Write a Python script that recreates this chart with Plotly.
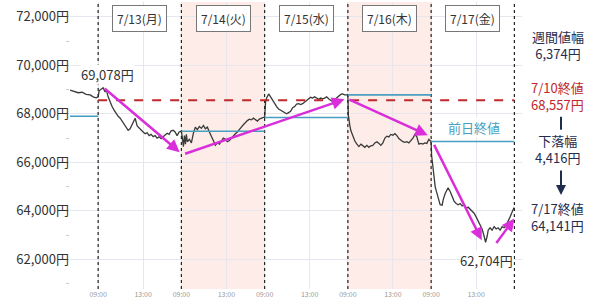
import plotly.graph_objects as go

# ---------------- data ----------------
DAY_LEN = 7.4  # trading hours shown per day (09:00 ~ close)
day_labels = ["7/13(月)", "7/14(火)", "7/15(水)", "7/16(木)", "7/17(金)"]

# tail of 7/10 session (hours relative to 7/13 09:00)
prev_hours = [-2.49, -2.13, -1.78, -1.42, -1.07, -0.71, -0.44, -0.18]
prev_price = [68980, 68930, 68870, 68890, 68800, 68780, 68700, 68660]

d13_hours = [0, 0.09, 0.27, 0.44, 0.62, 0.71, 0.89, 1.07, 1.24, 1.42, 1.6, 1.78, 1.96, 2.13, 2.31, 2.49,
             2.67, 2.84, 3.02, 3.2, 3.29, 3.47, 3.64, 3.82, 4.0, 4.18, 4.36, 4.53, 4.71, 4.89, 5.07, 5.24,
             5.42, 5.6, 5.78, 5.96, 6.13, 6.31, 6.49, 6.67, 6.84, 7.02, 7.2, 7.33]
d13_price = [68700, 68950, 69000, 69078, 68900, 69020, 68700, 68450, 68300, 68150, 68000, 67900, 67820,
             67700, 67600, 67450, 67320, 67380, 67550, 67700, 67820, 67500, 67420, 67300, 67250, 67180,
             67220, 67100, 67150, 67060, 67100, 67000, 67050, 66980, 67050, 67150, 67200, 67150, 67300,
             67320, 67250, 67100, 67250, 67280]

d14_hours = [0, 0.09, 0.18, 0.27, 0.36, 0.44, 0.53, 0.71, 0.89, 1.07, 1.24, 1.42, 1.6, 1.78, 1.96, 2.13,
             2.31, 2.49, 2.67, 2.84, 3.02, 3.2, 3.38, 3.56, 3.73, 3.91, 4.09, 4.27, 4.44, 4.62, 4.8, 4.98,
             5.16, 5.33, 5.51, 5.69, 5.87, 6.04, 6.22, 6.4, 6.58, 6.76, 6.93, 7.11, 7.29]
d14_price = [67280, 67000, 66650, 67100, 66750, 67150, 66850, 66950, 66800, 67200, 67450, 67350, 67480,
             67400, 67520, 67380, 67450, 67250, 67100, 66900, 66700, 66800, 66750, 66900, 67000, 66950,
             66850, 66900, 67000, 67100, 67180, 67250, 67380, 67450, 67550, 67650, 67720, 67780, 67750,
             67820, 67760, 67700, 67780, 67820, 67850]

d15_hours = [0, 0.09, 0.18, 0.36, 0.53, 0.71, 0.89, 1.07, 1.24, 1.42, 1.6, 1.78, 1.96, 2.13, 2.31, 2.49,
             2.67, 2.84, 3.02, 3.2, 3.38, 3.73, 3.91, 4.09, 4.27, 4.44, 4.62, 4.8, 4.98, 5.16, 5.33, 5.51,
             5.69, 5.87, 6.04, 6.22, 6.4, 6.58, 6.76, 6.93, 7.11, 7.29]
d15_price = [67850, 68500, 68650, 68820, 68700, 68550, 68400, 68300, 68200, 68150, 68080, 68050, 68000,
             68050, 68100, 68250, 68300, 68400, 68420, 68380, 68420, 68550, 68620, 68680, 68650, 68700,
             68650, 68600, 68650, 68620, 68650, 68700, 68620, 68550, 68500, 68580, 68650, 68720, 68800,
             68820, 68780, 68780]

d16_hours = [0, 0.04, 0.09, 0.18, 0.27, 0.44, 0.62, 0.8, 0.98, 1.16, 1.33, 1.51, 1.69, 1.87, 2.04, 2.22,
             2.4, 2.58, 2.76, 2.93, 3.11, 3.29, 3.47, 3.64, 3.82, 4.0, 4.18, 4.36, 4.53, 4.71, 4.89, 5.07,
             5.24, 5.42, 5.6, 5.78, 5.96, 6.13, 6.31, 6.49, 6.67, 6.84, 7.02, 7.2, 7.38]
d16_price = [68780, 67950, 67700, 67500, 67300, 67050, 66880, 66750, 66650, 66750, 66680, 66620, 66700,
             66620, 66680, 66700, 66800, 66850, 66780, 66700, 66800, 67000, 67080, 67050, 67150, 67120,
             67180, 67100, 66980, 66900, 66850, 66820, 66850, 66800, 66900, 67000, 67150, 67050, 66750,
             66780, 66750, 66800, 66780, 66950, 66860]

d17_hours = [0, 0.04, 0.09, 0.18, 0.27, 0.36, 0.44, 0.53, 0.62, 0.8, 0.98, 1.07, 1.24, 1.42, 1.51, 1.69,
             1.87, 2.04, 2.22, 2.4, 2.58, 2.76, 2.93, 3.11, 3.29, 3.47, 3.64, 3.82, 4.0, 4.18, 4.36, 4.53,
             4.71, 4.84, 4.98, 5.07, 5.24, 5.42, 5.6, 5.78, 5.96, 6.13, 6.31, 6.49, 6.67, 6.84, 7.02, 7.2,
             7.38]
d17_price = [66860, 66300, 66050, 65600, 65250, 65000, 64850, 64700, 64450, 64250, 64230, 64450, 64700,
             64850, 64950, 64800, 64600, 64400, 64300, 64250, 64300, 64200, 64250, 64100, 64150, 64050,
             64000, 63900, 63750, 63600, 63450, 63250, 62950, 62704, 62950, 63200, 63300, 63200, 63350,
             63250, 63300, 63200, 63350, 63300, 63400, 63550, 63750, 63950, 64141]

# previous-day closes shown as teal reference lines
prev_close_days = [-1, 1, 2, 3, 4]
prev_close_vals = [67900, 67280, 67850, 68780, 66860]

close_0710 = 68557
week_high = 69078
week_low = 62704
close_0717 = 64141

y_ticks = [62000, 64000, 66000, 68000, 70000, 72000]
y_ticktext = [f"{v:,}円" for v in y_ticks]

# trend arrows: (tail hour, tail price, head hour, head price)
arrows = [
    (0.44, 69100, 7.25, 66420),
    (7.6, 66330, 21.9, 68600),
    (22.2, 68610, 29.3, 67120),
    (29.8, 66780, 34.1, 62790),
    (35.3, 62610, 37.0, 63680),
]

# ---------------- figure ----------------
days = [d13_hours, d14_hours, d15_hours, d16_hours, d17_hours]
prices = [d13_price, d14_price, d15_price, d16_price, d17_price]
xs = list(prev_hours)
ys = list(prev_price)
for k, (h, p) in enumerate(zip(days, prices)):
    xs += [k * DAY_LEN + v for v in h]
    ys += p

NAVY = "#1f2d4f"
RED = "#c0282a"
TEAL = "#4a9fc0"
MAG = "#d92ed9"
FONT = "Noto Sans CJK JP"

fig = go.Figure()

shapes = []
for k in (1, 3):
    shapes.append(dict(type="rect", xref="x", yref="paper", x0=k * DAY_LEN, x1=(k + 1) * DAY_LEN,
                       y0=0, y1=1, fillcolor="#fdece7", line=dict(width=0), layer="below"))
for k in range(6):
    shapes.append(dict(type="line", xref="x", yref="paper", x0=k * DAY_LEN, x1=k * DAY_LEN,
                       y0=0, y1=0.995, line=dict(color="#222", width=1.2, dash="dot")))
for d, v in zip(prev_close_days, prev_close_vals):
    if d < 0:
        x0, x1 = prev_hours[0] - 0.1, 0
    else:
        x0, x1 = d * DAY_LEN, (d + 1) * DAY_LEN
    shapes.append(dict(type="line", xref="x", yref="y", x0=x0, x1=x1, y0=v, y1=v,
                       line=dict(color=TEAL, width=1.6)))
shapes.append(dict(type="line", xref="x", yref="y", x0=0, x1=5 * DAY_LEN, y0=close_0710, y1=close_0710,
                   line=dict(color=RED, width=2, dash="dash")))
shapes.append(dict(type="line", xref="paper", yref="paper", x0=1.0863, x1=1.0863, y0=0.555, y1=0.6,
                   line=dict(color=NAVY, width=2)))

fig.add_trace(go.Scatter(x=xs, y=ys, mode="lines", line=dict(color="#3a3a3a", width=1.3),
                         hoverinfo="skip", showlegend=False))

ann = []
for k, lab in enumerate(day_labels):
    ann.append(dict(x=k * DAY_LEN + DAY_LEN / 2, y=0.9414, xref="x", yref="paper", text=lab,
                    showarrow=False, xanchor="center", yanchor="middle",
                    font=dict(size=12, color="#333", family=FONT),
                    bgcolor="white", bordercolor="#777", borderwidth=1, borderpad=4))
for (tx, ty, hx, hy) in arrows:
    ann.append(dict(x=hx, y=hy, ax=tx, ay=ty, xref="x", yref="y", axref="x", ayref="y",
                    showarrow=True, arrowhead=2, arrowsize=1, arrowwidth=2.5, arrowcolor=MAG,
                    text="", standoff=0, startstandoff=0))
ann.append(dict(x=0.8, y=69630, xref="x", yref="y", text=f"{week_high:,}円", showarrow=False,
                xanchor="center", yanchor="middle",
                font=dict(size=13, color="#333", family=FONT), bgcolor="white", borderpad=0))
ann.append(dict(x=37.0, y=61960, xref="x", yref="y", text=f"{week_low:,}円", showarrow=False,
                xanchor="right", yanchor="middle", font=dict(size=13, color="#333", family=FONT),
                bgcolor="white", borderpad=0))
ann.append(dict(x=33.4, y=67430, xref="x", yref="y", text="前日終値", showarrow=False,
                xanchor="center", yanchor="middle",
                font=dict(size=13, color=TEAL, family=FONT), bgcolor="white", borderpad=0))

right = [
    (f"週間値幅<br>{week_high - week_low:,}円", 0.8500, NAVY),
    (f"7/10終値<br>{close_0710:,}円", 0.6724, RED),
    (f"下落幅<br>{close_0710 - close_0717:,}円", 0.4879, NAVY),
    (f"7/17終値<br>{close_0717:,}円", 0.2517, NAVY),
]
for t, yy, c in right:
    ann.append(dict(x=1.0796, y=yy, xref="paper", yref="paper", text=t, showarrow=False,
                    xanchor="center", yanchor="middle", align="center",
                    font=dict(size=13, color=c, family=FONT)))
ann.append(dict(x=1.0863, y=0.3276, ax=0, ay=-26, xref="paper", yref="paper",
                axref="pixel", ayref="pixel", showarrow=True, arrowhead=2, arrowsize=1,
                arrowwidth=2, arrowcolor=NAVY, text="", standoff=0))

tickvals = []
ticktext = []
for k in range(5):
    tickvals += [k * DAY_LEN, k * DAY_LEN + 4]
    ticktext += ["09:00", "13:00"]

fig.update_layout(
    width=600, height=301,
    margin=dict(l=70, r=78, t=2, b=9),
    paper_bgcolor="white", plot_bgcolor="white",
    shapes=shapes, annotations=ann,
    font=dict(family=FONT),
    xaxis=dict(range=[-2.5, -2.5 + 452 / 11.25], tickvals=tickvals, ticktext=ticktext,
               tickfont=dict(size=7, color="#999"), showgrid=True, gridcolor="#e6e6ee",
               zeroline=False, showline=False, ticks=""),
    yaxis=dict(range=[60775, 72612], tickvals=y_ticks, ticktext=y_ticktext,
               tickfont=dict(size=13, color="#333"), showgrid=True, gridcolor="#e6e6ee",
               zeroline=False, showline=False, ticks="",
               minor=dict(ticks="outside", ticklen=3, tickcolor="#ccc", dtick=1000, tick0=61000,
                          showgrid=False)),
)

fig.write_html("out.html")
